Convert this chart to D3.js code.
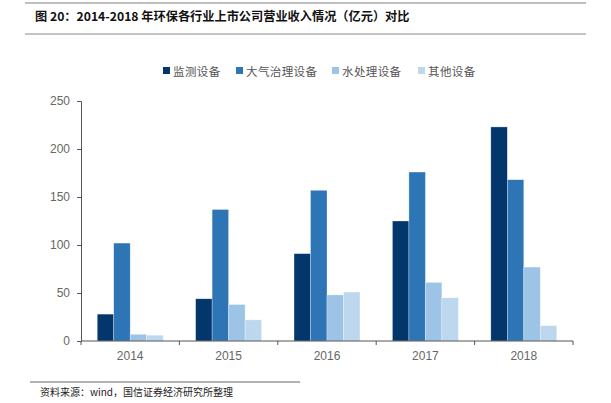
<html>
<head>
  <meta charset="utf-8">
  <script src="https://d3js.org/d3.v7.min.js"></script>
  <style>
    body { margin: 0; background: #fff; }
    text { font-family: "Liberation Sans", Arial, sans-serif; }
    .cjk { font-family: "Noto Sans CJK SC", sans-serif; }
  </style>
</head>
<body>
  <svg id="chart" width="611" height="403"></svg>
  <script>
    const years = ["2014", "2015", "2016", "2017", "2018"];
    const seriesNames = ["监测设备", "大气治理设备", "水处理设备", "其他设备"];
    const monitoring = [28, 44, 91, 125, 223];
    const airTreatment = [102, 137, 157, 176, 168];
    const waterTreatment = [7, 38, 48, 61, 77];
    const otherEquip = [6, 22, 51, 45, 16];
    const yTicks = [0, 50, 100, 150, 200, 250];
    const colors = ["#03366a", "#2e75b6", "#9dc3e6", "#bdd7ee"];

    const seriesValues = [monitoring, airTreatment, waterTreatment, otherEquip];
    const svg = d3.select("svg#chart");

    // header lines + title
    svg.append("line").attr("x1", 25).attr("x2", 586).attr("y1", 3).attr("y2", 3)
      .attr("stroke", "#aaa").attr("stroke-width", 1.5);
    svg.append("line").attr("x1", 25).attr("x2", 586).attr("y1", 34).attr("y2", 34)
      .attr("stroke", "#888").attr("stroke-width", 1);
    svg.append("text").attr("class", "cjk")
      .attr("x", 35).attr("y", 21)
      .style("font-size", "12.2px").style("font-weight", "bold").attr("fill", "#111")
      .text("图 20：2014-2018 年环保各行业上市公司营业收入情况（亿元）对比");

    const margin = { top: 101, left: 81, right: 38, bottom: 62 };
    const plotW = 611 - margin.left - margin.right;
    const plotH = 403 - margin.top - margin.bottom;
    const g = svg.append("g").attr("transform", `translate(${margin.left},${margin.top})`);

    const x = d3.scaleBand().domain(years).range([0, plotW]).paddingInner(0.33).paddingOuter(0.165);
    const xSub = d3.scaleBand().domain(d3.range(seriesNames.length)).range([0, x.bandwidth()]);
    const y = d3.scaleLinear().domain([0, 250]).range([plotH, 0]);

    // y axis
    const yAxis = g.append("g")
      .call(d3.axisLeft(y).tickValues(yTicks).tickSize(4).tickPadding(7));
    yAxis.select(".domain").attr("stroke", "#555");
    yAxis.selectAll(".tick line").attr("stroke", "#555");
    yAxis.selectAll("text").attr("fill", "#666").style("font-size", "12px");

    // bars
    years.forEach((yr, i) => {
      seriesValues.forEach((vals, s) => {
        g.append("rect")
          .attr("x", x(yr) + xSub(s))
          .attr("y", y(vals[i]))
          .attr("width", xSub.bandwidth())
          .attr("height", plotH - y(vals[i]))
          .attr("fill", colors[s])
          .attr("stroke", "#fff").attr("stroke-opacity", 0.5).attr("stroke-width", 0.6);
      });
    });

    // x axis with ticks between categories
    const xPos = d3.scaleLinear().domain([0, years.length]).range([0, plotW]);
    const xAxis = g.append("g").attr("transform", `translate(0,${plotH})`);
    xAxis.append("line").attr("x1", 0).attr("x2", plotW).attr("stroke", "#555");
    xAxis.selectAll("line.tk").data(d3.range(years.length + 1)).join("line")
      .attr("class", "tk")
      .attr("x1", d => xPos(d)).attr("x2", d => xPos(d))
      .attr("y1", 0).attr("y2", 4).attr("stroke", "#555");
    xAxis.selectAll("text").data(years).join("text")
      .attr("x", d => x(d) + x.bandwidth() / 2).attr("y", 19)
      .attr("text-anchor", "middle").attr("fill", "#666").style("font-size", "12px")
      .text(d => d);

    // legend
    const legendX = [163, 236, 332, 418];
    const legend = svg.append("g");
    seriesNames.forEach((name, s) => {
      legend.append("rect").attr("x", legendX[s]).attr("y", 67).attr("width", 7).attr("height", 7)
        .attr("fill", colors[s]);
      legend.append("text").attr("class", "cjk")
        .attr("x", legendX[s] + 10).attr("y", 75.5)
        .attr("fill", "#555").style("font-size", "11.5px").style("letter-spacing", "0.4px")
        .text(name);
    });

    // source
    svg.append("line").attr("x1", 30).attr("x2", 300).attr("y1", 382).attr("y2", 382)
      .attr("stroke", "#666").attr("stroke-width", 1);
    svg.append("text").attr("class", "cjk")
      .attr("x", 40).attr("y", 396)
      .attr("fill", "#222").style("font-size", "10px")
      .text("资料来源：wind，国信证券经济研究所整理");
  </script>
</body>
</html>
